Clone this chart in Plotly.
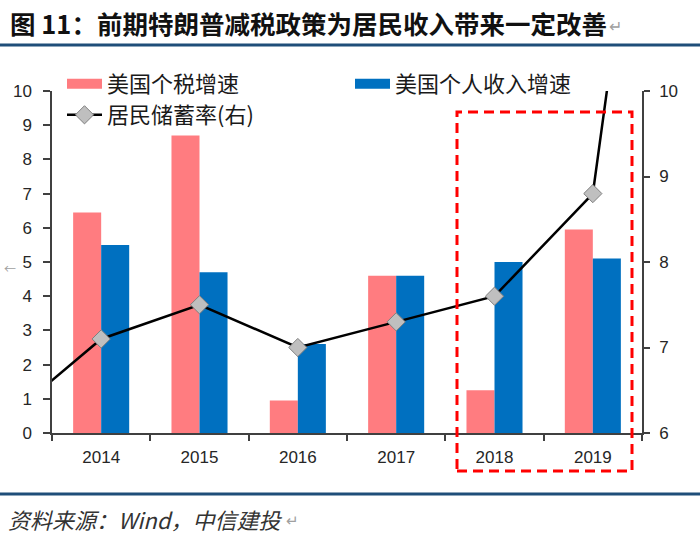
import plotly.graph_objects as go

# ---- data ----
all_years = ["2013", "2014", "2015", "2016", "2017", "2018", "2019", "2020"]
bar_years = ["2014", "2015", "2016", "2017", "2018", "2019"]
tax_growth = [6.45, 8.7, 0.95, 4.6, 1.25, 5.95]          # 美国个税增速
income_growth = [5.5, 4.7, 2.6, 4.6, 5.0, 5.1]           # 美国个人收入增速
saving_rate = [6.13, 7.1, 7.5, 7.0, 7.3, 7.6, 8.8, 17.2]  # 居民储蓄率(右)
left_ticks = list(range(0, 11))
right_ticks = [6, 7, 8, 9, 10]

PINK = "#FF7C80"
BLUE = "#0070C0"
NAVY = "#1F4E79"
FONT = "Noto Sans CJK SC"
NUMFONT = "Liberation Sans"

L, R, T, B = 52, 58, 91, 117
W, H = 700, 550
PW, PH = W - L - R, H - T - B


def px(x):
    return (x - L) / PW


def py(y):
    return (H - B - y) / PH


fig = go.Figure()

fig.add_trace(go.Bar(x=bar_years, y=tax_growth, name="美国个税增速",
                     marker=dict(color=PINK, line=dict(width=0)),
                     showlegend=False, yaxis="y"))
fig.add_trace(go.Bar(x=bar_years, y=income_growth, name="美国个人收入增速",
                     marker=dict(color=BLUE, line=dict(width=0)),
                     showlegend=False, yaxis="y"))

# legend swatches for bars
fig.add_trace(go.Scatter(x=[None], y=[None], mode="lines", name="美国个税增速",
                         line=dict(color=PINK, width=12), legend="legend",
                         legendrank=1))
fig.add_trace(go.Scatter(x=[None], y=[None], mode="lines", name="美国个人收入增速",
                         line=dict(color=BLUE, width=12), legend="legend",
                         legendrank=2))

fig.add_trace(go.Scatter(x=all_years, y=saving_rate, name="居民储蓄率(右)",
                         mode="lines+markers", yaxis="y2",
                         line=dict(color="black", width=2.5),
                         marker=dict(symbol="diamond", size=14, color="#BFBFBF",
                                     line=dict(color="#808080", width=1)),
                         legend="legend2"))

fig.update_layout(
    width=W, height=H,
    margin=dict(l=L, r=R, t=T, b=B, pad=0, autoexpand=False),
    paper_bgcolor="white", plot_bgcolor="white",
    barmode="group", bargap=0.43, bargroupgap=0,
    font=dict(family=NUMFONT, size=17, color="#262626"),
    xaxis=dict(type="category", categoryorder="array", categoryarray=all_years,
               range=[0.5, 6.5], showgrid=False, zeroline=False,
               showline=True, linecolor="#404040", linewidth=1.5,
               ticks="outside", tickson="boundaries", ticklen=6,
               tickcolor="#404040", tickwidth=1.5, ticklabelstandoff=8,
               tickfont=dict(family=NUMFONT, size=17, color="#262626")),
    yaxis=dict(range=[0, 10], tickvals=left_ticks, showgrid=False,
               zeroline=False, showline=True, linecolor="#404040",
               linewidth=1.5, ticks="outside", ticklen=7, tickcolor="#404040",
               tickwidth=1.5, ticklabelstandoff=8,
               tickfont=dict(family=NUMFONT, size=17, color="#262626")),
    yaxis2=dict(range=[6, 10], tickvals=right_ticks, overlaying="y",
                side="right", showgrid=False, zeroline=False, showline=True,
                linecolor="#404040", linewidth=1.5, ticks="outside", ticklen=6,
                tickcolor="#404040", tickwidth=1.5, ticklabelstandoff=6,
                tickfont=dict(family=NUMFONT, size=17, color="#262626")),
    legend=dict(orientation="h", x=px(62), y=py(63), xanchor="left",
                yanchor="top", entrywidth=238, entrywidthmode="pixels",
                itemwidth=35, bgcolor="rgba(0,0,0,0)",
                font=dict(family=FONT, size=22, color="#1a1a1a")),
    legend2=dict(orientation="h", x=px(62), y=py(94), xanchor="left",
                 yanchor="top", itemwidth=35, bgcolor="rgba(0,0,0,0)",
                 font=dict(family=FONT, size=22, color="#1a1a1a")),
)

# title, rules, source
fig.add_annotation(text="<b>图 11：前期特朗普减税政策为居民收入带来一定改善</b>",
                   xref="paper", yref="paper", x=px(8), y=py(22),
                   xanchor="left", yanchor="middle", showarrow=False,
                   font=dict(family=FONT, size=25.5, color="#111111"))
fig.add_annotation(text="↵", xref="paper", yref="paper", x=px(607), y=py(25),
                   xanchor="left", yanchor="middle", showarrow=False,
                   font=dict(family=FONT, size=16, color="#A0A0A0"))
fig.add_annotation(text="<i>资料来源：Wind，中信建投</i>",
                   xref="paper", yref="paper", x=px(6), y=py(519),
                   xanchor="left", yanchor="middle", showarrow=False,
                   font=dict(family=FONT, size=22, color="#333333"))
fig.add_annotation(text="↵", xref="paper", yref="paper", x=px(284), y=py(519),
                   xanchor="left", yanchor="middle", showarrow=False,
                   font=dict(family=FONT, size=15, color="#A0A0A0"))
fig.add_annotation(text="←", xref="paper", yref="paper", x=px(10), y=py(268),
                   xanchor="center", yanchor="middle", showarrow=False,
                   font=dict(family=FONT, size=12, color="#A0A0A0"))

fig.add_shape(type="line", xref="paper", yref="paper", x0=px(0), x1=px(700),
              y0=py(45), y1=py(45), line=dict(color=NAVY, width=3))
fig.add_shape(type="line", xref="paper", yref="paper", x0=px(0), x1=px(700),
              y0=py(494), y1=py(494), line=dict(color=NAVY, width=3))

# highlight box around 2018-2019
fig.add_shape(type="rect", xref="paper", yref="paper",
              x0=px(457), x1=px(632), y0=py(471), y1=py(112),
              line=dict(color="#FF0000", width=3, dash="10px,6px"),
              fillcolor="rgba(0,0,0,0)", layer="above")

fig.write_html("out.html", config={"displayModeBar": False},
               post_script="document.body.style.margin='0';")
